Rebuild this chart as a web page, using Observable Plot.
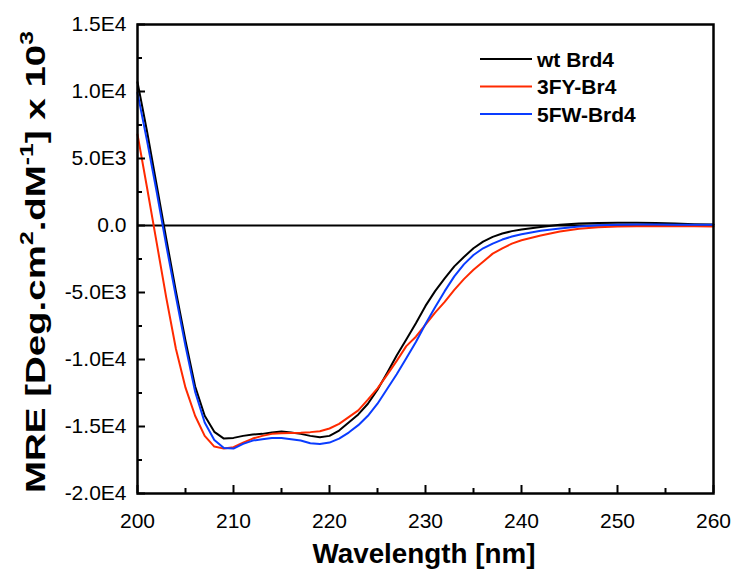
<!DOCTYPE html>
<html>
<head>
<meta charset="utf-8">
<script src="https://cdn.jsdelivr.net/npm/d3@7"></script>
<script src="https://cdn.jsdelivr.net/npm/@observablehq/plot@0.6"></script>
<style>
  html, body { margin: 0; padding: 0; background: #fff; }
  #chart svg { display: block; }
</style>
</head>
<body>
<div id="chart"></div>
<script>
const wavelengths = [200,201,202,203,204,205,206,207,208,209,210,211,212,213,214,215,216,217,218,219,220,221,222,223,224,225,226,227,228,229,230,231,232,233,234,235,236,237,238,239,240,242,244,246,248,250,252,254,256,258,260];
const wtBrd4 = [10700,7000,3000,-1000,-4900,-8600,-12000,-14200,-15400,-15900,-15850,-15700,-15600,-15550,-15450,-15380,-15450,-15550,-15700,-15800,-15700,-15300,-14700,-14100,-13300,-12250,-11000,-9700,-8500,-7300,-6000,-4900,-3950,-3050,-2350,-1700,-1200,-850,-600,-420,-300,-120,50,150,180,200,200,180,150,100,80];
const fy3Brd4 = [6800,2800,-1300,-5400,-9200,-12100,-14200,-15700,-16500,-16650,-16550,-16200,-15900,-15700,-15550,-15500,-15480,-15460,-15420,-15350,-15150,-14800,-14300,-13800,-13000,-12150,-11150,-10100,-9000,-8300,-7400,-6500,-5700,-4800,-4000,-3300,-2700,-2100,-1700,-1350,-1100,-750,-450,-250,-130,-80,-50,-50,-60,-60,-70];
const fw5Brd4 = [9900,6300,2500,-1500,-5300,-9000,-12400,-14700,-16000,-16600,-16650,-16300,-16050,-15950,-15850,-15850,-15950,-16050,-16250,-16300,-16200,-15900,-15450,-14900,-14200,-13300,-12200,-11100,-9900,-8700,-7350,-6100,-4900,-3800,-2900,-2200,-1700,-1350,-1050,-820,-650,-400,-220,-80,20,60,80,80,60,50,50];

const seriesNames = ["wt Brd4", "3FY-Br4", "5FW-Brd4"];
const seriesColors = ["#000000", "#ff2a00", "#0a3cff"];
const xMajorTicks = [200,210,220,230,240,250,260];
const xMinorTicks = [205,215,225,235,245,255];
const yMajorTicks = [15000,10000,5000,0,-5000,-10000,-15000,-20000];
const yMinorTicks = [12500,7500,2500,-2500,-7500,-12500,-17500];
const yTickLabels = ["1.5E4","1.0E4","5.0E3","0.0","-5.0E3","-1.0E4","-1.5E4","-2.0E4"];

const allSeries = [wtBrd4, fy3Brd4, fw5Brd4];
const table = [];
allSeries.forEach((vals, s) => {
  vals.forEach((v, i) => table.push({wavelength: wavelengths[i], mre: v, series: seriesNames[s]}));
});

const yLabelMap = new Map(yMajorTicks.map((t, i) => [t, yTickLabels[i]]));

const W = 733, H = 572, mL = 137, mR = 20, mT = 24, mB = 79;
const plotW = W - mL - mR, plotH = H - mT - mB;

const chart = Plot.plot({
  width: W,
  height: H,
  marginLeft: mL,
  marginRight: mR,
  marginTop: mT,
  marginBottom: mB,
  style: {fontFamily: "'Liberation Sans', Arial, sans-serif", fontSize: "21px", color: "#000", background: "#fff", overflow: "visible"},
  x: {domain: [200, 260]},
  y: {domain: [-20000, 15000]},
  color: {domain: seriesNames, range: seriesColors},
  marks: [
    Plot.ruleY([0], {stroke: "#000", strokeWidth: 2}),
    Plot.line(table, {x: "wavelength", y: "mre", stroke: "series", z: "series", strokeWidth: 2, curve: "linear"}),
    // tick labels
    Plot.axisX({ticks: xMajorTicks, tickSize: 0, tickPadding: 20, label: null, tickFormat: d => String(d)}),
    Plot.axisY({ticks: yMajorTicks, tickSize: 0, tickPadding: 11, label: null, tickFormat: d => yLabelMap.get(d)}),
    // inward tick marks
    Plot.ruleX(xMajorTicks, {x: d => d, insetTop: plotH - 8, stroke: "#000", strokeWidth: 2}),
    Plot.ruleX(xMinorTicks, {x: d => d, insetTop: plotH - 5, stroke: "#000", strokeWidth: 2}),
    Plot.ruleY(yMajorTicks, {y: d => d, insetRight: plotW - 8, stroke: "#000", strokeWidth: 2}),
    Plot.ruleY(yMinorTicks, {y: d => d, insetRight: plotW - 5, stroke: "#000", strokeWidth: 2}),
    Plot.frame({stroke: "#000", strokeWidth: 2.5})
  ]
});

const svg = d3.select(chart);
const font = "'Liberation Sans', Arial, sans-serif";

// X axis title
svg.append("text")
  .attr("x", 424).attr("y", 563)
  .attr("text-anchor", "middle")
  .attr("font-family", font).attr("font-weight", "bold").attr("font-size", 28)
  .attr("textLength", 223).attr("lengthAdjust", "spacingAndGlyphs")
  .attr("fill", "#000")
  .text("Wavelength [nm]");

// Y axis title with superscripts
const yt = svg.append("text")
  .attr("transform", "translate(45,262) rotate(-90)")
  .attr("text-anchor", "middle")
  .attr("font-family", font).attr("font-weight", "bold").attr("font-size", 28)
  .attr("textLength", 462).attr("lengthAdjust", "spacingAndGlyphs")
  .attr("fill", "#000");
yt.append("tspan").text("MRE [Deg.cm");
yt.append("tspan").attr("dy", -12).attr("font-size", 18).text("2");
yt.append("tspan").attr("dy", 12).text(".dM");
yt.append("tspan").attr("dy", -12).attr("font-size", 18).text("-1");
yt.append("tspan").attr("dy", 12).text("] x 10");
yt.append("tspan").attr("dy", -12).attr("font-size", 18).text("3");

// Legend
const legend = svg.append("g").attr("font-family", font).attr("font-weight", "bold").attr("font-size", 21).attr("text-anchor", "start");
seriesNames.forEach((name, i) => {
  const yy = 59 + i * 27.5;
  legend.append("line").attr("x1", 480).attr("x2", 532).attr("y1", yy).attr("y2", yy)
    .attr("stroke", seriesColors[i]).attr("stroke-width", 2);
  legend.append("text").attr("x", 537).attr("y", yy + 7.5).attr("text-anchor", "start").attr("fill", "#000").text(name);
});

document.getElementById("chart").appendChild(chart);
</script>
</body>
</html>
